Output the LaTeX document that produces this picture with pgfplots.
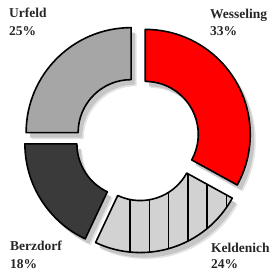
\documentclass[border=0pt]{standalone}
\usepackage{pgfplots}
\pgfplotsset{compat=1.18}
\usepackage{fontspec}
\setmainfont{Liberation Serif}
\definecolor{wred}{RGB}{255,0,0}
\definecolor{ugray}{RGB}{166,166,166}
\definecolor{bgray}{RGB}{58,58,58}
\definecolor{kgray}{RGB}{210,210,210}
\definecolor{shad}{RGB}{198,198,198}
\definecolor{shadsoft}{RGB}{228,228,228}
% segment path: #1 start angle, #2 end angle (clockwise)
\newcommand\seg[2]{(axis cs:{137.5+9*cos((#1+#2)/2)+105*cos(#1)},{134+9*sin((#1+#2)/2)+105*sin(#1)}) arc[start angle=#1,end angle=#2,radius=105pt] -- (axis cs:{137.5+9*cos((#1+#2)/2)+53*cos(#2)},{134+9*sin((#1+#2)/2)+53*sin(#2)}) arc[start angle=#2,end angle=#1,radius=53pt] -- cycle}
\begin{document}
\begin{tikzpicture}
\begin{axis}[
  width=275pt, height=273pt, scale only axis,
  xmin=0, xmax=275, ymin=0, ymax=273,
  hide axis, clip=false]
\path (axis cs:0,0) rectangle (axis cs:275,273);
% shares: Wesseling 33, Keldenich 24, Berzdorf 18, Urfeld 25 (percent -> degrees x3.6)
% soft shadows
\fill[shadsoft, xshift=5.5pt, yshift=-6.5pt] \seg{90}{-28.8};
\fill[shadsoft, xshift=5.5pt, yshift=-6.5pt] \seg{-28.8}{-115.2};
\fill[shadsoft, xshift=5.5pt, yshift=-6.5pt] \seg{-115.2}{-180};
\fill[shadsoft, xshift=5.5pt, yshift=-6.5pt] \seg{180}{90};
% shadows
\fill[shad, xshift=4pt, yshift=-5pt] \seg{90}{-28.8};
\fill[shad, xshift=4pt, yshift=-5pt] \seg{-28.8}{-115.2};
\fill[shad, xshift=4pt, yshift=-5pt] \seg{-115.2}{-180};
\fill[shad, xshift=4pt, yshift=-5pt] \seg{180}{90};
% segments
\fill[wred] \seg{90}{-28.8};
\fill[kgray] \seg{-28.8}{-115.2};
\begin{scope}
\clip \seg{-28.8}{-115.2};
\draw[line width=1.5pt] (axis cs:130,0) -- (axis cs:130,160);
\draw[line width=1.5pt] (axis cs:149.3,0) -- (axis cs:149.3,160);
\draw[line width=1.5pt] (axis cs:168.6,0) -- (axis cs:168.6,160);
\draw[line width=1.5pt] (axis cs:187.9,0) -- (axis cs:187.9,160);
\draw[line width=1.5pt] (axis cs:207.2,0) -- (axis cs:207.2,160);
\draw[line width=1.5pt] (axis cs:226.5,0) -- (axis cs:226.5,160);
\end{scope}
\fill[bgray] \seg{-115.2}{-180};
\fill[ugray] \seg{180}{90};
\draw[line width=1.6pt, line join=round] \seg{90}{-28.8};
\draw[line width=1.6pt, line join=round] \seg{-28.8}{-115.2};
\draw[line width=1.6pt, line join=round] \seg{-115.2}{-180};
\draw[line width=1.6pt, line join=round] \seg{180}{90};
% labels
\begin{scope}[every node/.style={anchor=base west, inner sep=0pt, text=black!85, font=\fontsize{13.5}{16}\selectfont\bfseries}]
\node at (axis cs:9,255) {Urfeld};
\node at (axis cs:9,237) {25\%};
\node at (axis cs:210,254) {Wesseling};
\node at (axis cs:210,237) {33\%};
\node at (axis cs:10,23) {Berzdorf};
\node at (axis cs:10,5) {18\%};
\node at (axis cs:211,21) {Keldenich};
\node at (axis cs:211,5) {24\%};
\end{scope}
\end{axis}
\end{tikzpicture}
\end{document}
